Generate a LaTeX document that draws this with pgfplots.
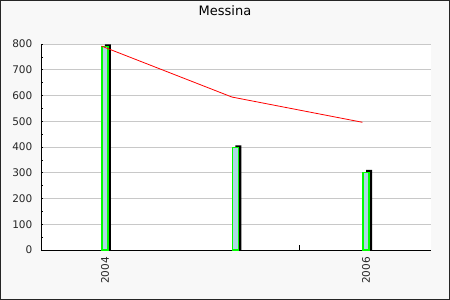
\documentclass[border=0pt]{standalone}
\usepackage{fontspec}
\setmainfont{DejaVu Sans}
\usepackage{pgfplots}
\pgfplotsset{compat=1.18}
\definecolor{bg}{HTML}{F8F8F8}
\definecolor{barfill}{HTML}{ADD8E6}
\definecolor{gridc}{HTML}{C8C8C8}
\definecolor{bargreen}{HTML}{00FF00}
\begin{document}
\begin{tikzpicture}[x=1pt,y=1pt]
\filldraw[fill=bg, draw=black!85, line width=1pt] (0.5,0.5) rectangle (449.5,299.5);
\node[font=\fontsize{13}{15}\selectfont, anchor=base, inner sep=0pt] at (225,284.5) {Messina};
\begin{axis}[
  at={(41pt,50pt)}, anchor=south west,
  scale only axis, width=390pt, height=206pt,
  xmin=2003.51, xmax=2006.498, ymin=0, ymax=800,
  axis background/.style={fill=white},
  axis x line*=bottom, axis y line*=left,
  axis line style={black, line width=0.9pt, -},
  ytick={0,100,...,800}, minor y tick num=1,
  ymajorgrids, grid style={gridc, line width=0.8pt},
  tick align=inside, major tick length=2.5pt, minor tick length=2.5pt,
  tick style={black, line width=0.7pt},
  xtick={2004,2006}, xticklabels={2004,2006},
  extra x ticks={2005.49}, extra x tick labels={},
  extra x tick style={major tick length=5pt},
  /pgf/number format/assume math mode=true,
  ticklabel style={font=\fontsize{10.5}{12}\selectfont, text=black!85},
  x tick label style={rotate=90, anchor=east, inner sep=0pt, xshift=-7pt},
  y tick label style={anchor=east, inner sep=0pt, xshift=-8.5pt},
  clip=false,
]
% 3D shadow of the bars
\addplot[ybar, bar width=6pt, bar shift=3pt, fill=black, draw=none]
  coordinates {(2004,799) (2005,406) (2006,311)};
% bars
\addplot[ybar, bar width=6pt, bar shift=0pt, fill=barfill, draw=bargreen, line width=1.2pt]
  coordinates {(2004,790) (2005,397) (2006,302)};
% line
\addplot[red, line width=0.8pt, mark=none]
  coordinates {(2003.973,792) (2004.973,594) (2005.973,496)};
\end{axis}
\end{tikzpicture}
\end{document}
